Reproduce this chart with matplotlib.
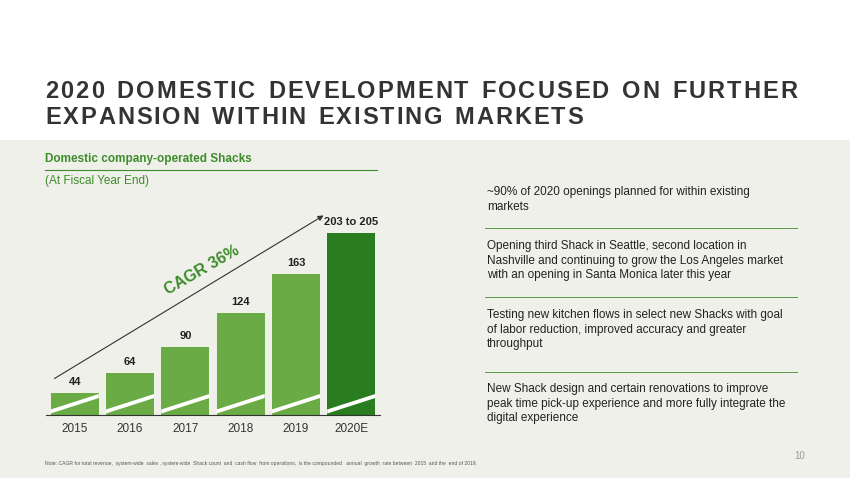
import matplotlib.pyplot as plt
from matplotlib.patches import Rectangle, Polygon, FancyArrowPatch

plt.rcParams["font.family"] = ["Liberation Sans", "DejaVu Sans"]

years = ["2015", "2016", "2017", "2018", "2019", "2020E"]
shacks = [44, 64, 90, 124, 163, 204]
labels = ["44", "64", "90", "124", "163", "203 to 205"]
bullets = [
    "~90% of 2020 openings planned for within existing\nmarkets",
    "Opening third Shack in Seattle, second location in\nNashville and continuing to grow the Los Angeles market\nwith an opening in Santa Monica later this year",
    "Testing new kitchen flows in select new Shacks with goal\nof labor reduction, improved accuracy and greater\nthroughput",
    "New Shack design and certain renovations to improve\npeak time pick-up experience and more fully integrate the\ndigital experience",
]

W, H = 850, 478
fig = plt.figure(figsize=(8.5, 4.78), dpi=100)
fig.patch.set_facecolor("white")


def fx(x):
    return x / W


def fy(y):
    return 1 - y / H


def spaced_text(x0, x1, y, s, **kw):
    # draw a line with letter spacing stretched to fill x0..x1
    fig.canvas.draw()
    r = fig.canvas.get_renderer()
    widths = []
    for ch in s:
        t = fig.text(0, 0, ch if ch != " " else "n", **kw)
        widths.append(t.get_window_extent(r).width * (0.6 if ch == " " else 1))
        t.remove()
    gap = (x1 - x0 - sum(widths)) / (len(s) - 1)
    pos = x0
    for ch, w in zip(s, widths):
        if ch != " ":
            fig.text(fx(pos), fy(y), ch, va="center", **kw)
        pos += w + gap


# grey lower band
fig.add_artist(Rectangle((0, 0), 1, fy(140), transform=fig.transFigure,
                         facecolor="#f0f0eb", edgecolor="none", zorder=0))

tkw = dict(fontsize=17, fontweight="bold", color="#333333")
spaced_text(45, 797, 91, "2020 DOMESTIC DEVELOPMENT FOCUSED ON FURTHER", **tkw)
spaced_text(45, 583, 117, "EXPANSION WITHIN EXISTING MARKETS", **tkw)

fig.text(fx(45), fy(159), "Domestic company-operated Shacks", fontsize=8.5,
         fontweight="bold", color="#3d8c2a", va="center")
fig.add_artist(plt.Line2D([fx(45), fx(377)], [fy(170), fy(170)],
                          color="#3d8c2a", lw=0.8, transform=fig.transFigure))
fig.text(fx(45), fy(181), "(At Fiscal Year End)", fontsize=8.5,
         color="#3d8c2a", va="center")

ax = fig.add_axes([fx(46), fy(415), fx(334), fy(225) - fy(415)])
ax.set_facecolor("none")
x = range(len(years))
colors = ["#6aab45"] * 5 + ["#2a7d1e"]
bars = ax.bar(x, [v - 22 for v in shacks], bottom=22, width=0.87,
              color=colors, zorder=2)
for b, lab in zip(bars, labels):
    cx = b.get_x() + b.get_width() / 2
    ax.text(cx, b.get_y() + b.get_height() + 6, lab, ha="center", va="bottom",
            fontsize=8, fontweight="bold", color="#222222")
    # white diagonal stripe
    x0, x1 = b.get_x(), b.get_x() + b.get_width()
    ax.add_patch(Polygon([(x0, 23.5), (x0, 27.5), (x1, 43), (x1, 39)],
                         closed=True, facecolor="white", edgecolor="none",
                         zorder=3))
ax.set_xlim(-0.52, 5.52)
ax.set_ylim(22, 212)
ax.set_xticks(list(x))
ax.set_xticklabels(years, fontsize=8.5, color="#333333")
ax.tick_params(length=0, pad=6)
ax.set_yticks([])
for s in ["top", "left", "right"]:
    ax.spines[s].set_visible(False)
ax.spines["bottom"].set_color("#333333")
ax.spines["bottom"].set_linewidth(0.8)

fig.add_artist(FancyArrowPatch(
    (fx(52), fy(380)), (fx(326), fy(214)), transform=fig.transFigure,
    arrowstyle="-|>", mutation_scale=8, color="#333333", lw=0.8))
fig.text(fx(202), fy(270), "CAGR 36%", fontsize=11.5, fontweight="bold",
         color="#3d8c2a", rotation=30, ha="center", va="center")

bullet_y = [186, 240, 309, 383]
for t, y in zip(bullets, bullet_y):
    fig.text(fx(487), fy(y), t, fontsize=8.5, color="#222222", va="top",
             linespacing=1.3)
for y in [228, 297, 372]:
    fig.add_artist(plt.Line2D([fx(485), fx(797)], [fy(y), fy(y)],
                              color="#3d8c2a", lw=0.6,
                              transform=fig.transFigure))

fig.text(fx(45), fy(464),
         "Note: CAGR for total revenue,  system-wide  sales , system-wide  Shack count  and  cash flow  from operations,  is the compounded   annual  growth  rate between  2015  and the  end of 2019.",
         fontsize=3.6, color="#555555", va="center")
fig.text(fx(805), fy(456), "10", fontsize=7, color="#999999", ha="right",
         va="center")

fig.savefig("out.png", dpi=100, facecolor=fig.get_facecolor())
